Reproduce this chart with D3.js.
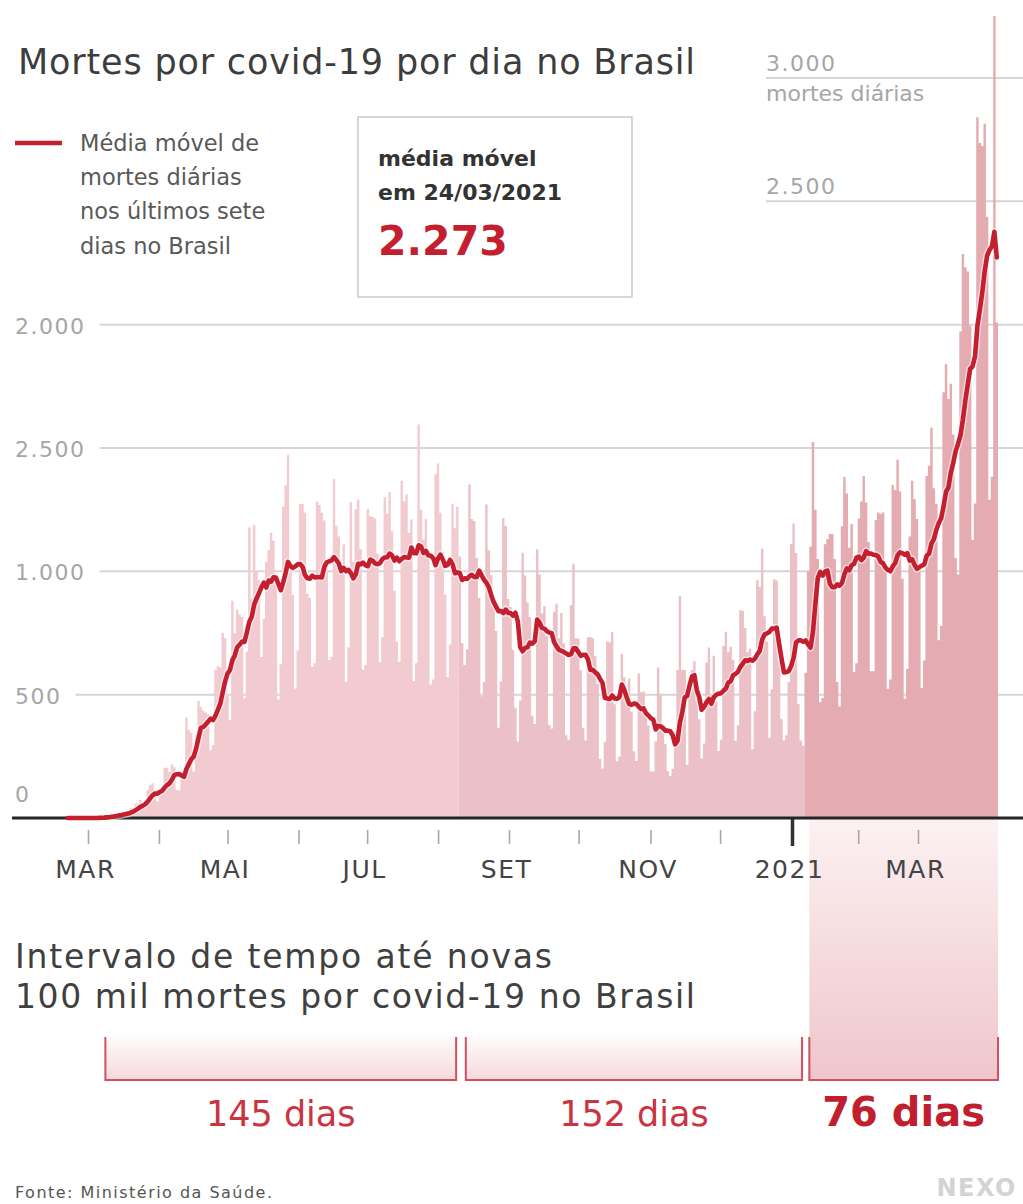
<!DOCTYPE html>
<html><head><meta charset="utf-8">
<script src="https://cdn.jsdelivr.net/npm/d3@7"></script>
<style>
body{margin:0;background:#fff}
svg{display:block}
text{font-family:"DejaVu Sans",sans-serif}
</style>
</head><body>
<svg id="c" width="1023" height="1204"></svg>
<script>
// ---------------- DATA ----------------
const firstDay = "2020-03-05";
const deathsMar2020 = [0,0,0,0,0,0,0,0,0,0,0,0,1,3,3,4,7,7,9,12,11,20,15,22,22,23,42];
const deathsApr2020 = [40,58,60,73,54,67,114,133,141,115,68,99,105,204,204,188,217,206,115,113,166,165,407,357,346,189,338,474,449,435];
const deathsMay2020 = [428,421,275,296,600,615,610,751,730,496,396,881,749,844,824,816,485,674,1179,888,1188,1001,965,653,807,1039,1086,1156,1124,956,480];
const deathsJun2020 = [623,1262,1349,1473,1005,904,525,679,1272,1274,1239,909,892,612,627,1282,1269,1238,1206,1022,641,654,1374,1185,1141,990,1109,552,692,1280];
const deathsJul2020 = [1038,1252,1290,1091,602,620,1254,1223,1220,1214,1071,631,733,1300,1233,1322,1163,921,716,632,1367,1284,1311,1156,1211,555,627,1595,1250,1129,1212];
const deathsAug2020 = [1088,541,561,1394,1437,1237,1079,905,572,703,1274,1175,1262,1060,709,620,684,1352,1212,1204,1054,892,494,551,1271,1085,984,855,758,366,553];
const deathsSep2020 = [1215,1184,888,855,682,447,310,476,1075,983,874,814,415,381,1090,987,829,858,739,377,363,836,869,729,831,708,335,317,863,1031];
const deathsOct2020 = [729,728,599,366,314,733,734,729,657,543,239,201,309,716,713,754,461,230,248,666,571,497,566,432,271,231,586,510,513,427,374];
const deathsNov2020 = [190,189,311,610,500,380,300,190,170,200,350,600,900,600,600,216,500,600,635,477,400,241,302,630,691,501,658,474,272,317];
const deathsDec2020 = [697,755,672,694,642,313,376,842,840,770,672,686,279,433,964,936,1092,818,716,325,522,968,963,639,400,314,335,551,1111,1194,1074];
const deathsJan2021 = [462,314,293,589,1000,1100,1524,1250,1050,469,486,1110,1131,1151,1151,1050,551,452,1183,1382,1316,1096,1192,592,627,1214,1283,1386,1279,1119,595];
const deathsFeb2021 = [595,1208,1239,1232,1239,1000,524,561,1350,1330,1452,1324,970,483,605,1141,1367,1293,1212,1018,527,639,1386,1428,1582,1337,1274,721];
const deathsMar2021 = [778,1726,1840,1699,1760,1555,1054,987,1972,2286,2233,2216,1997,1127,1275,2841,2736,2724,2815,2438,1290,1383,3251,2009];

const gridLeftValues = [0, 500, 1000, 1500, 2000];
const gridLeftLabels = ["0", "500", "1.000", "2.500", "2.000"];
const gridRightValues = [2500, 3000];
const gridRightLabels = ["2.500", "3.000"];

const tickLabels = ["MAR","","MAI","","JUL","","SET","","NOV","","2021","","MAR"];

const periodBreaks = ["2020-08-14", "2021-01-04"];
const intervalStart = ["2020-03-21", "2020-08-17", "2021-01-06"];
const intervalEnd   = ["2020-08-13", "2021-01-03", "2021-03-25"];
const intervalLabels = ["145 dias", "152 dias", "76 dias"];

// ---------------- SETUP ----------------
const parse = d3.utcParse("%Y-%m-%d");
const allDeaths = [].concat(deathsMar2020, deathsApr2020, deathsMay2020, deathsJun2020, deathsJul2020,
  deathsAug2020, deathsSep2020, deathsOct2020, deathsNov2020, deathsDec2020, deathsJan2021, deathsFeb2021, deathsMar2021);
const start = parse(firstDay);
const days = allDeaths.map((v, i) => ({date: d3.utcDay.offset(start, i), value: v}));
const avg = days.map((d, i) => ({date: d.date, value: d3.mean(days.slice(Math.max(0, i - 6), i + 1), e => e.value)}));

const svg = d3.select("#c");
const x = d3.scaleUtc().domain([parse("2020-03-01"), parse("2021-03-25")]).range([57, 998]);
// month ticks of the source graphic are laid out on their own spacing
const xAxisScale = d3.scaleUtc()
  .domain([parse("2020-03-01"), parse("2020-09-01"), parse("2021-01-01"), parse("2021-03-01")])
  .range([88, 509, 792, 918]);
const y = d3.scaleLinear().domain([0, 3000]).range([818, 78]);

const defs = svg.append("defs");
const g1 = defs.append("linearGradient").attr("id","gCol").attr("x1",0).attr("x2",0).attr("y1",0).attr("y2",1);
g1.append("stop").attr("offset","0%").attr("stop-color","#fcf1f2");
g1.append("stop").attr("offset","100%").attr("stop-color","#efc6cb");
const g2 = defs.append("linearGradient").attr("id","gBr").attr("x1",0).attr("x2",0).attr("y1",0).attr("y2",1);
g2.append("stop").attr("offset","0%").attr("stop-color","#ffffff");
g2.append("stop").attr("offset","100%").attr("stop-color","#f6d9dc");

// ---------------- GRID ----------------
const gridG = svg.append("g");
gridLeftValues.forEach((v, i) => {
  const t = gridG.append("text").attr("x", 15).attr("y", v === 0 ? y(0) - 16 : y(v) + 9)
    .attr("font-size", 22).attr("fill", "#a6a6a6").attr("letter-spacing", 1.5).text(gridLeftLabels[i]);
  if (v > 0) {
    const w = t.node().getComputedTextLength();
    gridG.append("line").attr("x1", 15 + w + 14).attr("x2", 1023).attr("y1", y(v)).attr("y2", y(v))
      .attr("stroke", "#d6d6d6").attr("stroke-width", 2);
  }
});
gridRightValues.forEach((v, i) => {
  gridG.append("line").attr("x1", 766).attr("x2", 1023).attr("y1", y(v)).attr("y2", y(v))
    .attr("stroke", "#d6d6d6").attr("stroke-width", 2);
  gridG.append("text").attr("x", 766).attr("y", y(v) - 7).attr("font-size", 22)
    .attr("fill", "#a6a6a6").attr("letter-spacing", 1.5).text(gridRightLabels[i]);
});
gridG.append("text").attr("x", 766).attr("y", y(3000) + 23).attr("font-size", 22)
  .attr("fill", "#a6a6a6").text("mortes diárias");

// ---------------- BELOW-AXIS SHADING ----------------
const brY0 = 1037, brY1 = 1080;
svg.append("rect").attr("x", x(parse(intervalStart[2]))).attr("y", y(0))
  .attr("width", x(parse(intervalEnd[2])) - x(parse(intervalStart[2]))).attr("height", brY1 - y(0))
  .attr("fill", "url(#gCol)");
[0, 1].forEach(i => {
  const a = x(parse(intervalStart[i])), b = x(parse(intervalEnd[i]));
  svg.append("rect").attr("x", a).attr("y", brY0 - 6).attr("width", b - a).attr("height", brY1 - brY0 + 6)
    .attr("fill", "url(#gBr)");
});

// ---------------- DAILY BARS (step areas by period) ----------------
const breaks = periodBreaks.map(parse);
const periods = [
  {from: x.domain()[0], to: breaks[0], color: "#f2cbd1"},
  {from: breaks[0], to: breaks[1], color: "#ebc1c7"},
  {from: breaks[1], to: x.domain()[1], color: "#e4abb1"}
];
const area = d3.area().x(p => p[0]).y0(y(0)).y1(p => y(p[1]));
periods.forEach(p => {
  const pts = [];
  days.filter(d => d.date >= p.from && d.date < p.to).forEach(d => {
    pts.push([x(d.date), d.value]);
    pts.push([x(d3.utcDay.offset(d.date, 1)), d.value]);
  });
  svg.append("path").attr("d", area(pts)).attr("fill", p.color);
});

// ---------------- AXIS ----------------
const months = xAxisScale.ticks(d3.utcMonth.every(1));
const axisG = svg.append("g").attr("transform", `translate(0,${y(0)})`)
  .call(d3.axisBottom(xAxisScale).tickValues(months).tickFormat((d, i) => tickLabels[i]).tickSize(26));
axisG.select(".domain").remove();
axisG.selectAll(".tick line").each(function(d) {
  const isYear = d.getUTCMonth() === 0;
  d3.select(this).attr("y1", isYear ? 0 : 12).attr("y2", isYear ? 28 : 26)
    .attr("stroke", isYear ? "#333" : "#a8a8a8").attr("stroke-width", isYear ? 3.5 : 1.6);
});
axisG.selectAll(".tick text").attr("y", 60).attr("dy", null).attr("dx", -3)
  .attr("font-size", 25).attr("fill", "#444").attr("letter-spacing", 1.5)
  .style("font-family", '"DejaVu Sans", sans-serif');

svg.append("line").attr("x1", 12).attr("x2", 1023).attr("y1", y(0)).attr("y2", y(0))
  .attr("stroke", "#262626").attr("stroke-width", 3);

// ---------------- MOVING AVERAGE ----------------
const half = (x(parse("2020-03-02")) - x(parse("2020-03-01"))) / 2;
const line = d3.line().x(d => x(d.date) + half).y(d => y(d.value)).curve(d3.curveLinear);
svg.append("path").attr("d", line(avg)).attr("fill", "none").attr("stroke", "rgba(255,255,255,0.55)")
  .attr("stroke-width", 7.5).attr("stroke-linejoin", "round");
svg.append("path").attr("d", line(avg)).attr("fill", "none").attr("stroke", "#c41f2e")
  .attr("stroke-width", 4.6).attr("stroke-linejoin", "round").attr("stroke-linecap", "round");

// ---------------- BRACKETS ----------------
intervalLabels.forEach((lab, i) => {
  const a = x(parse(intervalStart[i])), b = x(parse(intervalEnd[i]));
  svg.append("path").attr("d", `M${a},${brY0}V${brY1}H${b}V${brY0}`).attr("fill", "none")
    .attr("stroke", "#d2505b").attr("stroke-width", 2);
  const last = i === intervalLabels.length - 1;
  svg.append("text").attr("x", (a + b) / 2).attr("y", 1126).attr("text-anchor", "middle")
    .attr("font-size", last ? 40 : 35).attr("font-weight", last ? "bold" : "normal")
    .attr("fill", last ? "#c0202d" : "#cc3340").text(lab);
});

// ---------------- TEXTS ----------------
svg.append("text").attr("x", 18).attr("y", 74).attr("font-size", 35).attr("fill", "#3d3d3d")
  .attr("textLength", 677).attr("lengthAdjust", "spacing").text("Mortes por covid-19 por dia no Brasil");

svg.append("line").attr("x1", 15).attr("x2", 62).attr("y1", 143).attr("y2", 143)
  .attr("stroke", "#c41f2e").attr("stroke-width", 4.5);
["Média móvel de", "mortes diárias", "nos últimos sete", "dias no Brasil"].forEach((t, i) => {
  svg.append("text").attr("x", 80).attr("y", 151 + i * 34.2).attr("font-size", 22.5)
    .attr("fill", "#595959").text(t);
});

svg.append("rect").attr("x", 358).attr("y", 117).attr("width", 274).attr("height", 180)
  .attr("fill", "none").attr("stroke", "#cacaca").attr("stroke-width", 1.5);
svg.append("text").attr("x", 378).attr("y", 166).attr("font-size", 22).attr("font-weight", "bold")
  .attr("fill", "#333").text("média móvel");
svg.append("text").attr("x", 378).attr("y", 200).attr("font-size", 22).attr("font-weight", "bold")
  .attr("fill", "#333").text("em 24/03/2021");
svg.append("text").attr("x", 378).attr("y", 255).attr("font-size", 41).attr("font-weight", "bold")
  .attr("fill", "#c41f2e").text(d3.format(",.0f")(avg[avg.length - 1].value).replace(",", "."));

svg.append("text").attr("x", 15).attr("y", 968).attr("font-size", 33).attr("fill", "#404040")
  .attr("textLength", 537).attr("lengthAdjust", "spacing").text("Intervalo de tempo até novas");
svg.append("text").attr("x", 15).attr("y", 1008).attr("font-size", 33).attr("fill", "#404040")
  .attr("textLength", 680).attr("lengthAdjust", "spacing").text("100 mil mortes por covid-19 no Brasil");

svg.append("text").attr("x", 15).attr("y", 1198).attr("font-size", 16).attr("fill", "#555")
  .attr("textLength", 257).attr("lengthAdjust", "spacing").text("Fonte: Ministério da Saúde.");
svg.append("text").attr("x", 1017).attr("y", 1196).attr("text-anchor", "end").attr("font-size", 24)
  .attr("font-weight", "bold").attr("fill", "#d3d3d3").attr("letter-spacing", 1.5).text("NEXO");
</script>
</body></html>
